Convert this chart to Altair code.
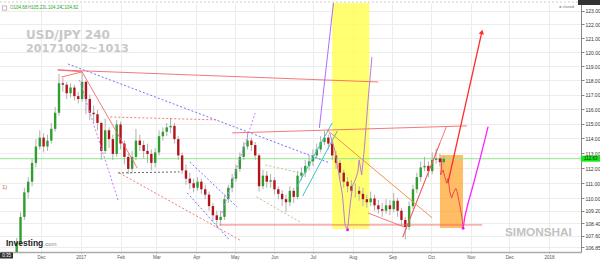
import altair as alt
import pandas as pd

# ---------------- data ----------------
candle_start = "2016-11-12"
candle_step = "3D"
first_open = 106.3
closes = [107.15,108.8,110.4,111.1,112.35,113.45,114.05,113.45,113.85,114.65,
          115.75,117.8,117.7,117.1,117.5,116.9,116.7,117.9,116.7,115.75,
          115.65,115.05,113.15,114.55,113.95,112.95,114.95,113.65,112.75,111.95,
          112.75,113.85,113.55,113.15,112.95,112.35,113.05,114.15,114.45,114.75,
          114.85,113.95,112.85,111.85,111.3,111.0,110.7,111.1,110.6,110.25,
          109.5,108.9,108.6,108.8,109.95,110.7,111.3,111.95,112.75,113.45,
          113.85,113.55,112.85,110.8,111.5,111.1,111.2,110.6,110.3,109.95,
          109.75,110.5,110.1,111.5,111.7,112.15,112.45,112.85,113.25,113.75,
          114.05,113.65,112.85,112.35,111.7,111.1,110.8,110.5,110.5,110.3,
          109.95,109.75,110.0,109.55,109.3,109.2,109.55,109.3,109.85,109.2,
          108.6,108.15,109.5,110.6,111.4,112.05,112.15,111.8,112.55,112.65,
          112.4,112.63]
highs = [107.45,109.1,110.7,111.4,112.65,113.95,114.55,114.35,114.25,115.05,
         116.15,118.45,118.2,117.9,117.8,117.7,117.2,118.5,118.0,117.0,
         116.25,115.95,115.15,115.35,114.75,114.25,115.25,115.15,113.85,112.95,
         113.15,114.65,114.25,113.85,113.65,113.25,113.35,114.55,114.75,115.05,
         115.4,115.05,114.15,113.05,112.25,111.7,111.3,111.4,111.3,110.9,
         110.45,109.7,109.2,109.2,110.25,110.9,111.6,112.25,113.05,113.75,
         114.4,114.05,113.75,112.95,111.9,111.8,111.6,111.4,110.8,110.55,
         110.25,110.8,110.7,111.8,112.05,112.55,112.85,113.25,113.65,114.15,
         114.5,114.25,113.85,113.15,112.55,111.9,111.4,111.2,111.0,110.8,
         110.7,110.25,110.45,110.25,109.9,109.7,109.95,109.9,110.35,110.05,
         109.4,108.8,109.8,110.9,111.7,112.45,112.75,112.45,113.05,113.3,
         112.95,112.8]
lows = [106.0,106.95,108.6,110.0,110.8,112.05,113.25,113.05,113.15,113.65,
        114.45,115.55,117.2,116.7,116.8,116.6,116.4,116.5,115.65,115.25,
        115.05,114.55,112.55,112.95,113.35,112.55,112.75,113.25,112.25,111.6,
        111.65,112.55,113.15,112.65,112.35,111.85,112.05,112.85,113.85,114.15,
        114.35,113.65,112.55,111.6,110.9,110.6,110.4,110.5,110.3,109.95,
        109.2,108.5,108.1,108.25,108.6,109.7,110.4,111.1,111.75,112.55,
        113.25,113.15,112.55,110.45,110.6,110.7,110.7,110.25,109.95,109.5,
        109.1,109.5,109.7,109.95,111.2,111.4,111.85,112.15,112.65,113.05,
        113.55,113.25,112.55,111.95,111.3,110.7,110.4,110.15,110.05,109.85,
        109.5,109.4,109.5,109.2,109.0,108.8,109.0,108.9,109.1,108.8,
        108.25,107.35,107.95,109.3,110.35,111.1,111.8,111.4,111.6,112.3,
        112.1,112.25]

last_price = 112.63
tick_prices = [123, 122, 121, 120, 119, 118, 117, 116, 115, 114, 113, 112,
               111, 110, 109.2, 108.4, 107.6, 106.85]
month_ticks = ["2016-12-01", "2017-01-01", "2017-02-01", "2017-03-01", "2017-04-01",
               "2017-05-01", "2017-06-01", "2017-07-01", "2017-08-01", "2017-09-01",
               "2017-10-01", "2017-11-01", "2017-12-01", "2018-01-01"]
x_domain = ["2016-10-30", "2018-01-26"]
y_domain = [106.55, 123.56]

# solid red trend lines
red_x0 = ["2016-12-14","2016-12-14","2016-12-17","2017-01-02","2017-04-29","2017-04-19","2017-08-13","2017-09-09","2017-09-09"]
red_y0 = [118.74,118.74,118.24,118.60,114.37,108.28,109.05,107.50,107.50]
red_x1 = ["2017-08-21","2017-01-02","2017-01-02","2017-02-14","2017-10-29","2017-11-10","2017-09-10","2017-10-13","2017-10-08"]
red_y1 = [117.89,118.60,118.60,112.01,114.85,108.28,108.15,114.78,113.69]
# orange line
org_x0 = ["2017-07-12"]; org_y0 = [114.57]; org_x1 = ["2017-10-02"]; org_y1 = [108.73]
# dotted lines
blue_x0 = ["2016-12-22","2017-03-27","2017-03-25"]; blue_y0 = [119.16,112.41,110.36]
blue_x1 = ["2017-07-14","2017-05-03","2017-04-27"]; blue_y1 = [112.35,109.44,107.31]
pdot_x0 = ["2016-12-31","2017-04-21"]; pdot_y0 = [118.03,109.05]
pdot_x1 = ["2017-01-30","2017-05-17"]; pdot_y1 = [109.90,115.74]
rdot_x0 = ["2017-01-24","2017-01-31"]; rdot_y0 = [115.46,111.68]
rdot_x1 = ["2017-04-18","2017-05-05"]; rdot_y1 = [115.26,107.31]
gdot_x0 = ["2017-01-30"]; gdot_y0 = [111.68]; gdot_x1 = ["2017-03-19"]; gdot_y1 = [111.75]
grn_x0 = ["2017-05-25","2017-05-18"]; grn_y0 = [112.21,110.10]
grn_x1 = ["2017-06-21","2017-06-21"]; grn_y1 = [111.68,108.47]
teal_x0 = ["2017-06-18","2017-06-23"]; teal_y0 = [110.69,110.16]
teal_x1 = ["2017-07-16","2017-07-20"]; teal_y1 = [115.05,114.50]
purp_x0 = ["2017-07-06"]; purp_y0 = [114.71]; purp_x1 = ["2017-07-17"]; purp_y1 = [123.56]
# projection paths
mauve_d = ["2017-07-14","2017-07-18","2017-07-20","2017-07-24","2017-07-26","2017-07-28","2017-07-30",
           "2017-08-01","2017-08-03","2017-08-05","2017-08-06","2017-08-08","2017-08-10","2017-08-13","2017-08-16"]
mauve_p = [114.37,113.22,112.21,110.23,108.28,107.96,109.57,110.88,111.21,111.75,112.55,111.55,113.22,116.64,119.66]
wig_d = ["2017-10-09T07:00Z","2017-10-09T08:00Z","2017-10-08T12:00Z","2017-10-10T12:00Z","2017-10-11T19:00Z",
         "2017-10-13T05:00Z","2017-10-14T10:00Z","2017-10-15T17:00Z","2017-10-17T02:00Z","2017-10-18T22:00Z",
         "2017-10-20T10:00Z","2017-10-21T10:00Z","2017-10-23T00:00Z","2017-10-24T22:00Z","2017-10-26T02:00Z"]
wig_p = [112.66,112.01,111.55,111.88,111.43,111.0,111.33,110.44,110.02,110.44,110.66,110.44,109.77,108.92,108.13]
arrow_d = ["2017-10-14T05:00Z", "2017-11-09T17:00Z"]
arrow_p = [111.0, 121.45]
mag_d = ["2017-10-26T02:00Z","2017-10-27T10:00Z","2017-10-30","2017-11-02T22:00Z","2017-11-08T02:00Z","2017-11-14T14:00Z"]
mag_p = [108.06,108.81,109.7,110.88,112.55,114.8]
# boxes
yellow_x = ["2017-07-16", "2017-08-14"]; yellow_y = [108.02, 123.56]
orange_x = ["2017-10-08", "2017-10-26"]; orange_y = [108.08, 112.88]

# ---------------- helpers ----------------
def dt(s):
    y, m, d = map(int, s.split("-"))
    return alt.DateTime(year=y, month=m, date=d, utc=True)

FONT = "Liberation Sans"
xs = alt.Scale(type="utc", domain=[dt(s) for s in x_domain], nice=False)
ys = alt.Scale(type="log", domain=y_domain, nice=False, zero=False)
xaxis = alt.Axis(values=[dt(s) for s in month_ticks],
                 labelExpr="utcFormat(datum.value, '%m') == '01' ? utcFormat(datum.value, '%Y') : utcFormat(datum.value, '%b')",
                 title=None, grid=True, gridColor="#ececec", tickSize=1, tickColor="#aaa",
                 labelFontSize=4.5, labelColor="#555", labelFont=FONT, labelPadding=1,
                 domainColor="#aaa", domainWidth=1.5, labelFlush=False)
yaxis = alt.Axis(orient="right", values=tick_prices, format=".2f", title=None, grid=True,
                 gridColor="#ececec", tickSize=3, tickColor="#888", labelFontSize=5,
                 labelColor="#333", labelFont=FONT, labelPadding=1, domainColor="#888",
                 labelFlush=False, labelOverlap=False)

def X(f):
    return alt.X(f, type="temporal", scale=xs, axis=xaxis, title=None)

def Y(f):
    return alt.Y(f, type="quantitative", scale=ys, axis=yaxis, title=None)

def segs(x0, y0, x1, y1, color, dash=None, width=1.0, opacity=1.0):
    df = pd.DataFrame({"x0": x0, "y0": y0, "x1": x1, "y1": y1})
    kw = dict(color=color, strokeWidth=width, opacity=opacity, clip=True)
    if dash:
        kw["strokeDash"] = dash
    return alt.Chart(df).mark_rule(**kw).encode(
        x=X("x0"), y=Y("y0"), x2=alt.X2("x1"), y2=alt.Y2("y1"))

def path(d, p, color, width=1.0, opacity=1.0):
    df = pd.DataFrame({"d": d, "p": p, "k": list(range(len(d)))})
    return alt.Chart(df).mark_line(color=color, strokeWidth=width, opacity=opacity, clip=True).encode(
        x=X("d"), y=Y("p"), order=alt.Order("k:Q"))

one = pd.DataFrame({"a": [0]})

def ptext(txt, x, y, size, color, weight="normal", align="left", baseline="alphabetic", font=FONT):
    return alt.Chart(one).mark_text(text=txt, fontSize=size, color=color, fontWeight=weight,
                                    align=align, baseline=baseline, font=font).encode(
        x=alt.value(x), y=alt.value(y))

def prect(x, x2, y, y2, color):
    return alt.Chart(one).mark_rect(color=color).encode(
        x=alt.value(x), x2=alt.value(x2), y=alt.value(y), y2=alt.value(y2))

# ---------------- candles ----------------
dates = pd.date_range(candle_start, periods=len(closes), freq=candle_step).strftime("%Y-%m-%d")
opens = [first_open] + closes[:-1]
cdf = pd.DataFrame({"date": dates, "open": opens, "close": closes, "high": highs, "low": lows})
cdf["dir"] = ["up" if c >= o else "down" for o, c in zip(opens, closes)]

wicks = alt.Chart(cdf).mark_rule(color="#b0b0b0", strokeWidth=1, clip=True).encode(
    x=X("date"), y=Y("low"), y2=alt.Y2("high"))
bodies = alt.Chart(cdf).mark_rule(strokeWidth=2.4, strokeCap="butt", clip=True).encode(
    x=X("date"), y=Y("open"), y2=alt.Y2("close"),
    color=alt.Color("dir:N", scale=alt.Scale(domain=["up", "down"], range=["#2f9e2f", "#b3141c"]), legend=None))

# boxes
ybox = alt.Chart(pd.DataFrame({"x0": [yellow_x[0]], "x1": [yellow_x[1]], "y0": [yellow_y[0]], "y1": [yellow_y[1]]})) \
    .mark_rect(color="#ffff4d", opacity=0.8, clip=True).encode(x=X("x0"), x2=alt.X2("x1"), y=Y("y0"), y2=alt.Y2("y1"))
obox = alt.Chart(pd.DataFrame({"x0": [orange_x[0]], "x1": [orange_x[1]], "y0": [orange_y[0]], "y1": [orange_y[1]]})) \
    .mark_rect(color="#ffa733", opacity=0.75, clip=True).encode(x=X("x0"), x2=alt.X2("x1"), y=Y("y0"), y2=alt.Y2("y1"))

green_line = alt.Chart(pd.DataFrame({"p": [last_price]})).mark_rule(color="#8fe88f", strokeWidth=1).encode(y=Y("p"))

arrow_tip = alt.Chart(pd.DataFrame({"d": [arrow_d[1]], "p": [arrow_p[1]]})).mark_point(
    shape="triangle-up", filled=True, size=28, angle=13, color="#ff2a2a", opacity=1).encode(x=X("d"), y=Y("p"))
mag_dots = alt.Chart(pd.DataFrame({"d": [mauve_d[5], mag_d[0]], "p": [mauve_p[5], mag_p[0]]})).mark_point(
    shape="circle", filled=True, size=8, color="#ff00ff", opacity=1).encode(x=X("d"), y=Y("p"))

layers = [
    ybox, obox, green_line, wicks, bodies,
    segs(blue_x0, blue_y0, blue_x1, blue_y1, "#7272ff", dash=[2, 2]),
    segs(pdot_x0, pdot_y0, pdot_x1, pdot_y1, "#c27cff", dash=[2, 2]),
    segs(rdot_x0, rdot_y0, rdot_x1, rdot_y1, "#f07a7a", dash=[2, 2]),
    segs(gdot_x0, gdot_y0, gdot_x1, gdot_y1, "#666666", dash=[2, 2]),
    segs(grn_x0, grn_y0, grn_x1, grn_y1, "#a8cf90", dash=[2, 2]),
    segs(teal_x0, teal_y0, teal_x1, teal_y1, "#40c4c4"),
    segs(red_x0, red_y0, red_x1, red_y1, "#f26060", opacity=0.85),
    segs(org_x0, org_y0, org_x1, org_y1, "#f5924a"),
    segs(purp_x0, purp_y0, purp_x1, purp_y1, "#b06cff"),
    path(mauve_d, mauve_p, "#b87ed8"),
    path(wig_d, wig_p, "#f04848"),
    path(arrow_d, arrow_p, "#ff2a2a", width=1.3),
    path(mag_d, mag_p, "#ff22ff", width=1.3),
    arrow_tip, mag_dots,
    # decorations / texts
    alt.Chart(one).mark_rule(color="#cfcfcf", strokeDash=[2, 2]).encode(
        x=alt.value(0), x2=alt.value(581), y=alt.value(-1)),
    ptext("USD/JPY 240", 26, 36, 12, "#c8c8c8", weight="bold", font="DejaVu Sans"),
    ptext("20171002~1013", 26, 48.7, 11.2, "#c8c8c8", weight="bold", font="DejaVu Sans"),
    ptext("SIMONSHAI", 505, 233, 11.8, "#c2c2c2", weight="bold"),
    ptext("Investing", 6, 242.7, 8.5, "#222222", weight="bold"),
    ptext(".com", 43.5, 242.7, 6, "#888888"),
    ptext("1)", 2, 186, 6, "#e05a5a"),
    ptext("\u25cf closed", 559, 4, 4, "#777777", baseline="middle"),
    prect(581, 600, 152.7, 158.7, "#19e619"),
    ptext("112.63", 584, 155.7, 4.5, "#053305", baseline="middle"),
    prect(578, 600, -3, 2, "#333333"),
    prect(0, 13, 249.5, 255.5, "#333333"),
    ptext("0:35", 6.5, 252.5, 4.5, "#ffffff", align="center", baseline="middle"),
    alt.Chart(one).mark_point(shape="square", size=18, filled=False, color="#888888", strokeWidth=0.8).encode(
        x=alt.value(4.5), y=alt.value(5)),
]

header = [("O", 10, "#888888"), ("104.68", 13.5, "#22aa22"), ("H", 28, "#888888"), ("105.23", 31, "#22aa22"),
          ("L", 45, "#888888"), ("104.24", 48, "#22aa22"), ("C", 61, "#888888"), ("104.82", 64.5, "#22aa22")]
for t, xp, col in header:
    layers.append(ptext(t, xp, 5, 4.5, col, baseline="middle"))

chart = alt.layer(*layers).properties(
    width=581, height=249,
    padding={"left": 0, "top": 3, "right": 19, "bottom": 9},
    autosize="none",
).configure_view(stroke=None)

chart.save("out.html", embed_options={"renderer": "svg", "actions": False})
